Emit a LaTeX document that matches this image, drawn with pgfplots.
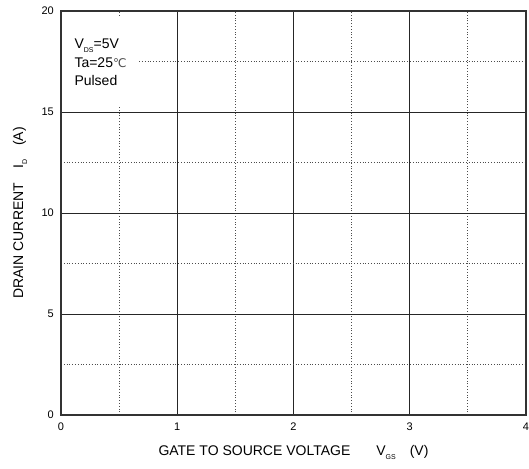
\documentclass[border=0pt]{standalone}
\usepackage{fontspec}
\setmainfont{Liberation Sans}
\newfontfamily\symfont{DejaVu Sans}
\usepackage{pgfplots}
\pgfplotsset{compat=1.18}
\newcommand{\sub}[1]{\raisebox{-4bp}{\fontsize{7bp}{7bp}\selectfont #1}}
\begin{document}
\begin{tikzpicture}
\begin{axis}[
  width=465bp, height=404bp, scale only axis,
  xmin=0, xmax=4, ymin=0, ymax=20,
  xtick={0,1,2,3,4}, ytick={0,5,10,15,20},
  minor xtick={0.5,1.5,2.5,3.5}, minor ytick={2.5,7.5,12.5,17.5},
  major tick length=0pt, minor tick length=0pt,
  grid=both,
  major grid style={black!85, line width=0.8bp},
  minor grid style={black!70, line width=0.8bp, dotted},
  axis line style={black!80, line width=1.2bp},
  /pgf/number format/assume math mode=true,
  tick label style={font=\fontsize{11bp}{12bp}\selectfont},
  xticklabel style={anchor=north, inner sep=0pt, yshift=-8bp},
  yticklabel style={anchor=east, inner sep=0pt, xshift=-7bp},
  xlabel={GATE TO SOURCE VOLTAGE\hspace{26bp}V\sub{GS}\hspace{14bp}(V)},
  ylabel={DRAIN CURRENT\hspace{14bp}I\sub{D}\hspace{14bp}(A)},
  label style={font=\fontsize{14bp}{16bp}\selectfont},
  xlabel style={at={(axis description cs:0.5,0)}, anchor=center, yshift=-37bp},
  ylabel style={at={(axis description cs:0,0.5)}, anchor=center, yshift=41bp},
]
\addplot[draw=none, forget plot] coordinates {(0,0) (4,20)};
\node[fill=white, anchor=north west, align=left, inner sep=2bp,
      font=\fontsize{14bp}{18.5bp}\selectfont, minimum width=74bp, minimum height=90bp]
  at (axis cs:0.02,19.7) {V\sub{DS}=5V\\Ta=25{\symfont\fontsize{12bp}{12bp}\selectfont\color{black!70}℃}\\Pulsed};
\draw[black!80, line width=1.2bp] (rel axis cs:0,0) rectangle (rel axis cs:1,1);
\end{axis}
\pgfresetboundingbox
\path (current axis.south west) ++(-61bp,-54bp) coordinate (bl);
\path (bl) rectangle ++(529bp,469bp);
\end{tikzpicture}
\end{document}
